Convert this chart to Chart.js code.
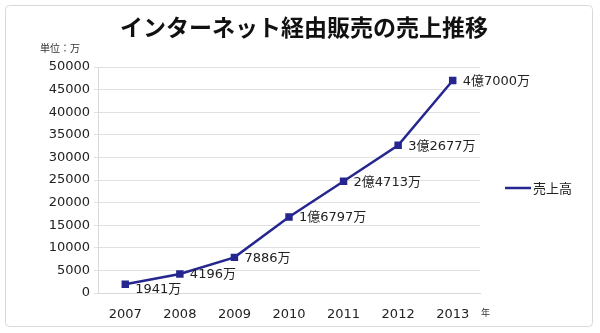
<!DOCTYPE html>
<html><head><meta charset="utf-8">
<script src="https://cdn.jsdelivr.net/npm/chart.js@4.4.1/dist/chart.umd.min.js"></script>
<style>html,body{margin:0;padding:0;background:#fff;}#wrap{width:600px;height:333px;position:relative;}</style>
</head><body><div id="wrap"><canvas id="c" width="600" height="333"></canvas></div>
<script>
const years = ['2007','2008','2009','2010','2011','2012','2013'];
const sales = [1941, 4196, 7886, 16797, 24713, 32677, 47000];
const seriesName = '売上高';
const titleText = 'インターネット経由販売の売上推移';
const unitText = '単位：万';
const yearUnit = '年';
const yTicks = [0,5000,10000,15000,20000,25000,30000,35000,40000,45000,50000];

const FONT = '"DejaVu Sans","Noto Sans CJK JP",sans-serif';
const JFONT = '"Noto Sans CJK JP","DejaVu Sans",sans-serif';
const COLOR = '#262690';

function fmt(v){
  const oku = Math.floor(v/10000), man = v%10000;
  return (oku>0 ? oku+'億' : '') + man + '万';
}

const deco = {
  id:'deco',
  beforeDraw(chart){
    const ctx = chart.ctx;
    ctx.save();
    ctx.fillStyle='#fff'; ctx.fillRect(0,0,600,333);
    ctx.strokeStyle='#d9d9d9'; ctx.lineWidth=1;
    ctx.beginPath(); ctx.roundRect(5.5,5.5,587,321,4); ctx.stroke();
    ctx.restore();
  },
  afterDraw(chart){
    const ctx = chart.ctx;
    const xs = chart.scales.x, ys = chart.scales.y;
    ctx.save();
    ctx.fillStyle='#111';
    ctx.font='bold 23px '+JFONT; ctx.textAlign='center'; ctx.textBaseline='middle';
    ctx.fillText(titleText, 304, 27);
    ctx.font='10px '+JFONT; ctx.textAlign='center'; ctx.fillStyle='#333';
    ctx.fillText(unitText, 60, 48);
    ctx.font='9px '+JFONT; ctx.textAlign='left';
    ctx.fillText(yearUnit, 481, 313);
    // data labels
    ctx.font='13px '+FONT; ctx.fillStyle='#222'; ctx.textAlign='left';
    sales.forEach((v,i)=>{
      const x = xs.getPixelForValue(i), y = ys.getPixelForValue(v);
      const dy = i===0 ? 5 : 1;
      ctx.fillText(fmt(v), x+10, y+dy);
    });
    // legend
    ctx.strokeStyle=COLOR; ctx.lineWidth=2.5;
    ctx.beginPath(); ctx.moveTo(505,188); ctx.lineTo(531,188); ctx.stroke();
    ctx.font='13px '+JFONT; ctx.fillStyle='#222';
    ctx.fillText(seriesName, 533, 188);
    ctx.restore();
  }
};

new Chart(document.getElementById('c'), {
  type:'line',
  data:{labels:years, datasets:[{label:seriesName, data:sales, borderColor:COLOR, backgroundColor:COLOR,
    borderWidth:2.5, pointStyle:'rect', pointRadius:3.5, pointHoverRadius:3.5, tension:0}]},
  options:{
    responsive:false, animation:false, devicePixelRatio:1,
    layout:{padding:{left:0, top:67, right:120, bottom:0}},
    plugins:{legend:{display:false}, title:{display:false}, tooltip:{enabled:false}},
    scales:{
      x:{offset:true, grid:{display:false, drawTicks:false},
         border:{display:true, color:'#d9d9d9'},
         ticks:{font:{family:FONT, size:13}, color:'#222', padding:14, maxRotation:0},
         afterFit(s){ s.height = 40; }},
      y:{min:0, max:50000, afterBuildTicks(s){ s.ticks = yTicks.map(v=>({value:v})); },
         grid:{color:'#e0e0e0', tickLength:4},
         border:{display:true, color:'#d9d9d9'},
         ticks:{font:{family:FONT, size:13}, color:'#222', padding:4, callback:(v)=>String(v)},
         afterFit(s){ s.width = 98; }}
    }
  },
  plugins:[deco]
});
</script></body></html>
